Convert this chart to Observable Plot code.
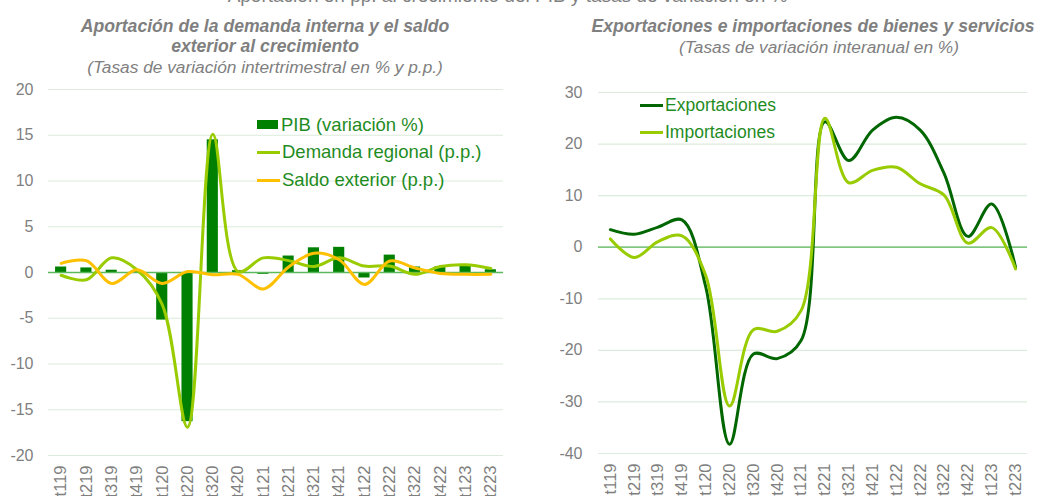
<!DOCTYPE html>
<html>
<head>
<meta charset="utf-8">
<script src="https://cdn.jsdelivr.net/npm/d3@7"></script>
<script src="https://cdn.jsdelivr.net/npm/@observablehq/plot@0.6"></script>
<style>
  html, body { margin: 0; padding: 0; background: #fff; }
  body { width: 1045px; height: 496px; position: relative; overflow: hidden; font-family: "Liberation Sans", Arial, sans-serif; }
  .abs { position: absolute; white-space: nowrap; }
  .title { color: #7f7f7f; font-size: 17.6px; font-weight: bold; font-style: italic; text-align: center; }
  .sub { color: #7f7f7f; font-size: 17.3px; font-style: italic; text-align: center; }
  .leg { color: #1f8c1f; font-size: 18.5px; display: flex; align-items: center; }
  .sw { display: inline-block; width: 23px; margin-right: 2px; }
</style>
</head>
<body>
<div class="abs" style="left:0;width:1015px;top:-15px;text-align:center;color:#7f7f7f;font-size:19px;">Aportación en pp. al crecimiento del PIB y tasas de variación en %</div>
<div class="abs title" style="left:10px;width:510px;top:16px;line-height:20px;">Aportación de la demanda interna y el saldo<br>exterior al crecimiento</div>
<div class="abs sub" style="left:10px;width:510px;top:57px;">(Tasas de variación intertrimestral en % y p.p.)</div>
<div class="abs title" style="left:553px;width:520px;top:16px;">Exportaciones e importaciones de bienes y servicios</div>
<div class="abs sub" style="left:559px;width:520px;top:37px;">(Tasas de variación interanual en %)</div>

<div id="left" class="abs" style="left:0;top:80px;"></div>
<div id="right" class="abs" style="left:540px;top:80px;"></div>

<div class="abs" style="left:257px;top:111px;">
  <div class="leg" style="height:27px;"><span class="sw" style="width:21px;height:9px;background:#008000;margin-right:3px;"></span>PIB (variación %)</div>
  <div class="leg" style="height:28px;"><span class="sw" style="height:3px;background:#99cc00;"></span>Demanda regional (p.p.)</div>
  <div class="leg" style="height:28px;"><span class="sw" style="height:3px;background:#ffc000;"></span>Saldo exterior (p.p.)</div>
</div>
<div class="abs" style="left:640px;top:92px;">
  <div class="leg" style="height:27px;font-size:17.5px;"><span class="sw" style="height:3px;background:#006600;"></span>Exportaciones</div>
  <div class="leg" style="height:27px;font-size:17.5px;"><span class="sw" style="height:3px;background:#99cc00;"></span>Importaciones</div>
</div>

<script>
const quarters = ["t119","t219","t319","t419","t120","t220","t320","t420","t121","t221","t321","t421","t122","t222","t322","t422","t123","t223"];

const pib      = [0.6, 0.5, 0.25, 0.1, -5.2, -16.3, 14.5, 0.2, -0.2, 1.8, 2.7, 2.75, -0.6, 1.9, 0.6, 0.6, 0.7, 0.3];
const demanda  = [-0.3, -0.8, 1.6, 0.3, -3.5, -16.9, 15.1, 0.1, 1.6, 1.3, 0.65, 1.6, 0.7, 0.7, -0.2, 0.65, 0.85, 0.45];
const saldo    = [1.0, 1.3, -1.2, 0.3, -1.2, 0.1, -0.25, -0.2, -1.8, 0.6, 2.1, 1.4, -1.3, 1.25, 0.5, -0.1, -0.2, -0.2];

const exportaciones = [3.4, 2.5, 3.9, 5.3, -7.7, -38.2, -20.7, -21.6, -18.1, 24.3, 16.8, 22.7, 25.2, 22.7, 14.3, 2.1, 8.4, -3.9];
const importaciones = [1.6, -2.0, 1.1, 2.2, -5.5, -30.8, -16.0, -16.3, -12.3, 25.0, 12.5, 14.9, 15.5, 12.3, 10.1, 0.8, 3.8, -4.2];

const leftTicks = [-20, -15, -10, -5, 0, 5, 10, 15, 20];
const rightTicks = [-40, -30, -20, -10, 0, 10, 20, 30];

const idx = quarters.map((q, i) => i);
const rows = (arr) => arr.map((v, i) => ({i, v}));

const gridColor = "#dcebdc";
const zeroColor = "#5cb85c";
const baseStyle = {fontFamily: "'Liberation Sans', Arial, sans-serif", fontSize: "16px", color: "#7f7f7f", background: "transparent", overflow: "visible"};

function xAxis() {
  return Plot.axisX(idx, {
    tickFormat: i => quarters[i], tickRotate: -90, tickSize: 0, tickPadding: 10,
    fontSize: 16.5, fill: "#7f7f7f", label: null
  });
}
function yAxis(ticks, pad) {
  return Plot.axisY(ticks, {tickFormat: d => String(d), tickSize: 0, tickPadding: pad, fontSize: 16, fill: "#7f7f7f", label: null});
}

const left = Plot.plot({
  width: 520, height: 416,
  marginLeft: 48, marginRight: 17, marginTop: 9, marginBottom: 41,
  style: baseStyle,
  x: {type: "linear", domain: [-0.5, quarters.length - 0.5], axis: null},
  y: {domain: [-20, 20], axis: null},
  marks: [
    Plot.ruleY(leftTicks, {stroke: gridColor, strokeWidth: 1.2}),
    yAxis(leftTicks, 15),
    Plot.rectY(rows(pib), {x1: d => d.i - 0.22, x2: d => d.i + 0.22, y1: 0, y2: "v", fill: "#008000"}),
    Plot.ruleY([0], {stroke: zeroColor, strokeWidth: 1.3}),
    Plot.lineY(rows(demanda), {x: "i", y: "v", stroke: "#99cc00", strokeWidth: 3, curve: "catmull-rom"}),
    Plot.lineY(rows(saldo), {x: "i", y: "v", stroke: "#ffc000", strokeWidth: 3, curve: "catmull-rom"}),
    xAxis()
  ]
});
document.getElementById("left").appendChild(left);

const right = Plot.plot({
  width: 505, height: 416,
  marginLeft: 58, marginRight: 18, marginTop: 12, marginBottom: 43,
  style: baseStyle,
  x: {type: "linear", domain: [-0.5, quarters.length - 0.5], axis: null},
  y: {domain: [-40, 30], axis: null},
  marks: [
    Plot.ruleY(rightTicks, {stroke: gridColor, strokeWidth: 1.2}),
    yAxis(rightTicks, 16),
    Plot.ruleY([0], {stroke: zeroColor, strokeWidth: 1.3}),
    Plot.lineY(rows(exportaciones), {x: "i", y: "v", stroke: "#006600", strokeWidth: 3, curve: "catmull-rom"}),
    Plot.lineY(rows(importaciones), {x: "i", y: "v", stroke: "#99cc00", strokeWidth: 3, curve: "catmull-rom"}),
    xAxis()
  ]
});
document.getElementById("right").appendChild(right);
</script>
</body>
</html>
